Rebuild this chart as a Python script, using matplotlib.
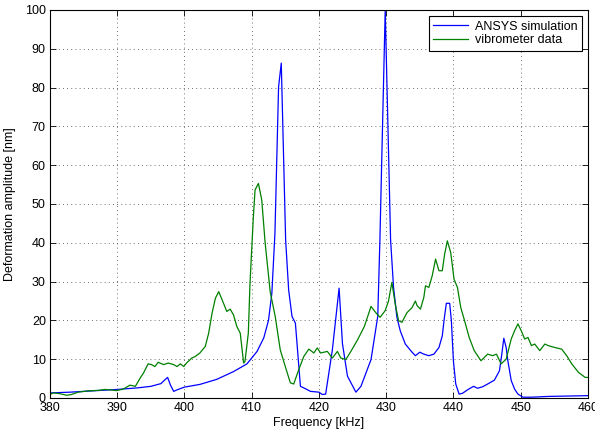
import numpy as np
import matplotlib.pyplot as plt

plt.rcParams['font.family'] = ['Liberation Sans', 'DejaVu Sans']
plt.rcParams['font.size'] = 9

# ANSYS harmonic response (frequency in kHz, amplitude in nm)
sim_freq = [380, 383, 386, 390, 393, 395, 396.5, 397.1, 397.5, 397.9, 398.4, 398.9,
            400, 402.3, 404.8, 407.3, 409.3, 410.8, 411.8, 412.5, 413, 413.46, 414.0,
            414.4, 415.05, 415.5, 416, 416.5, 417.25, 417.75, 418.75, 420, 420.5, 421,
            422, 423, 423.5, 424.25, 425.5, 426.25, 427.75, 428.75, 429.07, 429.86,
            430.66, 431.1, 431.6, 432.1, 432.85, 433.85, 434.35, 435, 435.6, 436.35,
            437.1, 437.85, 438.35, 438.6, 438.95, 439.45, 439.7, 440, 440.35, 440.85,
            441.35, 442.1, 443, 443.6, 444.35, 445.1, 446.1, 446.85, 447.2, 447.5,
            447.85, 448.1, 448.6, 449.1, 449.6, 450.35, 451.6, 454.1, 460]
sim_amp = [1.3, 1.5, 1.8, 2.2, 2.6, 3.0, 3.7, 4.7, 5.3, 3.4, 1.7, 2.1,
           2.8, 3.5, 4.8, 6.8, 8.8, 12.0, 15.5, 20.0, 27.0, 42.5, 80.2,
           86.3, 40.7, 27.8, 21.0, 19.3, 3.0, 2.6, 1.7, 1.5, 0.9, 1.0,
           12.4, 28.3, 14.0, 5.6, 1.5, 3.0, 9.9, 21.0, 40.7, 100.0,
           40.7, 28.5, 20.8, 17.3, 13.9, 11.8, 10.9, 11.8, 11.3, 10.9,
           11.3, 13.0, 16.0, 19.9, 24.4, 24.4, 19.9, 9.6, 3.6, 1.0,
           1.2, 2.1, 3.0, 2.5, 2.9, 3.6, 4.6, 7.0, 11.3, 15.4,
           13.0, 9.6, 4.5, 2.3, 1.0, 0.2, 0.2, 0.4, 0.6]

# laser vibrometer measurement
vib_freq = [380, 380.5, 381.5, 382.5, 383.2, 384.2, 385.5, 386.5, 387.4, 388.2, 388.9,
            389.9, 390.9, 391.9, 392.7, 393.4, 393.9, 394.6, 395.1, 395.6, 396.1, 396.9,
            397.6, 398.4, 398.9, 399.4, 399.9, 400.3, 401.1, 401.6, 402.3, 403.1, 403.6,
            404.1, 404.6, 405.1, 405.6, 406.3, 406.8, 407.3, 407.8, 408.3, 408.8, 409.0,
            409.5, 409.75, 410.25, 410.5, 411, 411.5, 412, 412.75, 413.5, 414.25, 415,
            415.75, 416.25, 417, 417.75, 418.5, 419.25, 419.75, 420.25, 421.25, 422,
            422.75, 423.25, 424, 424.75, 425.75, 426.75, 427.75, 428.5, 429.1, 429.85,
            430.35, 430.85, 431.35, 431.85, 432.35, 433.1, 433.85, 434.35, 434.6, 435.1,
            435.6, 435.85, 436.35, 436.85, 437.35, 437.85, 438.35, 438.7, 439.1, 439.6,
            440.1, 440.6, 441.1, 441.6, 442.35, 443.1, 444.1, 445.1, 445.85, 446.4,
            447.1, 447.85, 448.6, 449.1, 449.6, 450.1, 450.6, 451.1, 451.6, 452.1,
            452.85, 453.6, 454.1, 455.1, 456.1, 456.85, 457.6, 458.6, 459.6, 460]
vib_amp = [0.9, 1.3, 1.1, 0.7, 0.9, 1.5, 1.8, 1.9, 2.0, 2.2, 2.1,
           1.9, 2.3, 3.3, 3.0, 5.1, 6.4, 8.8, 8.6, 8.1, 9.2, 8.6,
           9.0, 8.6, 8.1, 8.8, 8.1, 9.0, 10.3, 10.7, 11.6, 13.3, 16.7,
           21.8, 25.7, 27.4, 25.3, 22.3, 22.9, 21.4, 18.4, 16.7, 9.0, 9.4,
           16.7, 29.6, 46.7, 53.6, 55.3, 51.0, 40.0, 27.4, 21.0, 12.4, 8.1,
           3.9, 3.6, 7.3, 10.7, 12.6, 11.6, 12.9, 11.6, 12.0, 10.3,
           12.0, 10.3, 9.9, 12.0, 15.0, 18.4, 23.6, 21.9, 20.8, 22.5,
           25.0, 29.8, 24.2, 19.9, 19.5, 22.0, 23.3, 25.0, 23.8, 22.9,
           25.9, 28.9, 28.5, 31.5, 35.8, 32.8, 32.8, 37.1, 40.5, 37.5,
           30.6, 28.5, 23.3, 20.3, 15.6, 12.2, 9.6, 11.3, 10.9, 11.3,
           8.8, 10.0, 15.2, 17.3, 19.1, 17.3, 15.2, 15.6, 13.5, 13.9,
           12.2, 13.9, 13.5, 13.0, 12.6, 10.9, 8.8, 6.6, 5.3, 5.3]

xticks = np.arange(380, 461, 10)
yticks = np.arange(0, 101, 10)

fig = plt.figure(figsize=(5.95, 4.34), dpi=100)
ax = fig.add_axes([0.084, 0.083, 0.904, 0.894])

ax.plot(sim_freq, sim_amp, color='#0000ff', linewidth=0.9, label='ANSYS simulation')
ax.plot(vib_freq, vib_amp, color='#008000', linewidth=0.9, label='vibrometer data')

ax.set_xlim(380, 460)
ax.set_ylim(0, 100)
ax.set_xticks(xticks)
ax.set_yticks(yticks)
ax.tick_params(direction='in', top=True, right=True, length=4, width=0.6, pad=3)
ax.grid(True, color='0.25', linestyle=(0, (1, 4)), linewidth=0.6)
for s in ax.spines.values():
    s.set_linewidth(0.8)

ax.set_xlabel('Frequency [kHz]', labelpad=2)
ax.set_ylabel('Deformation amplitude [nm]', labelpad=6)

# MATLAB-style legend box in the upper right corner
leg = ax.legend(loc='upper right', fancybox=False, framealpha=1, edgecolor='black',
                borderaxespad=0.5, handlelength=2.8, handletextpad=0.5,
                borderpad=0.35, labelspacing=0.15)
leg.get_frame().set_linewidth(0.8)

fig.savefig('out.png', dpi=100)
